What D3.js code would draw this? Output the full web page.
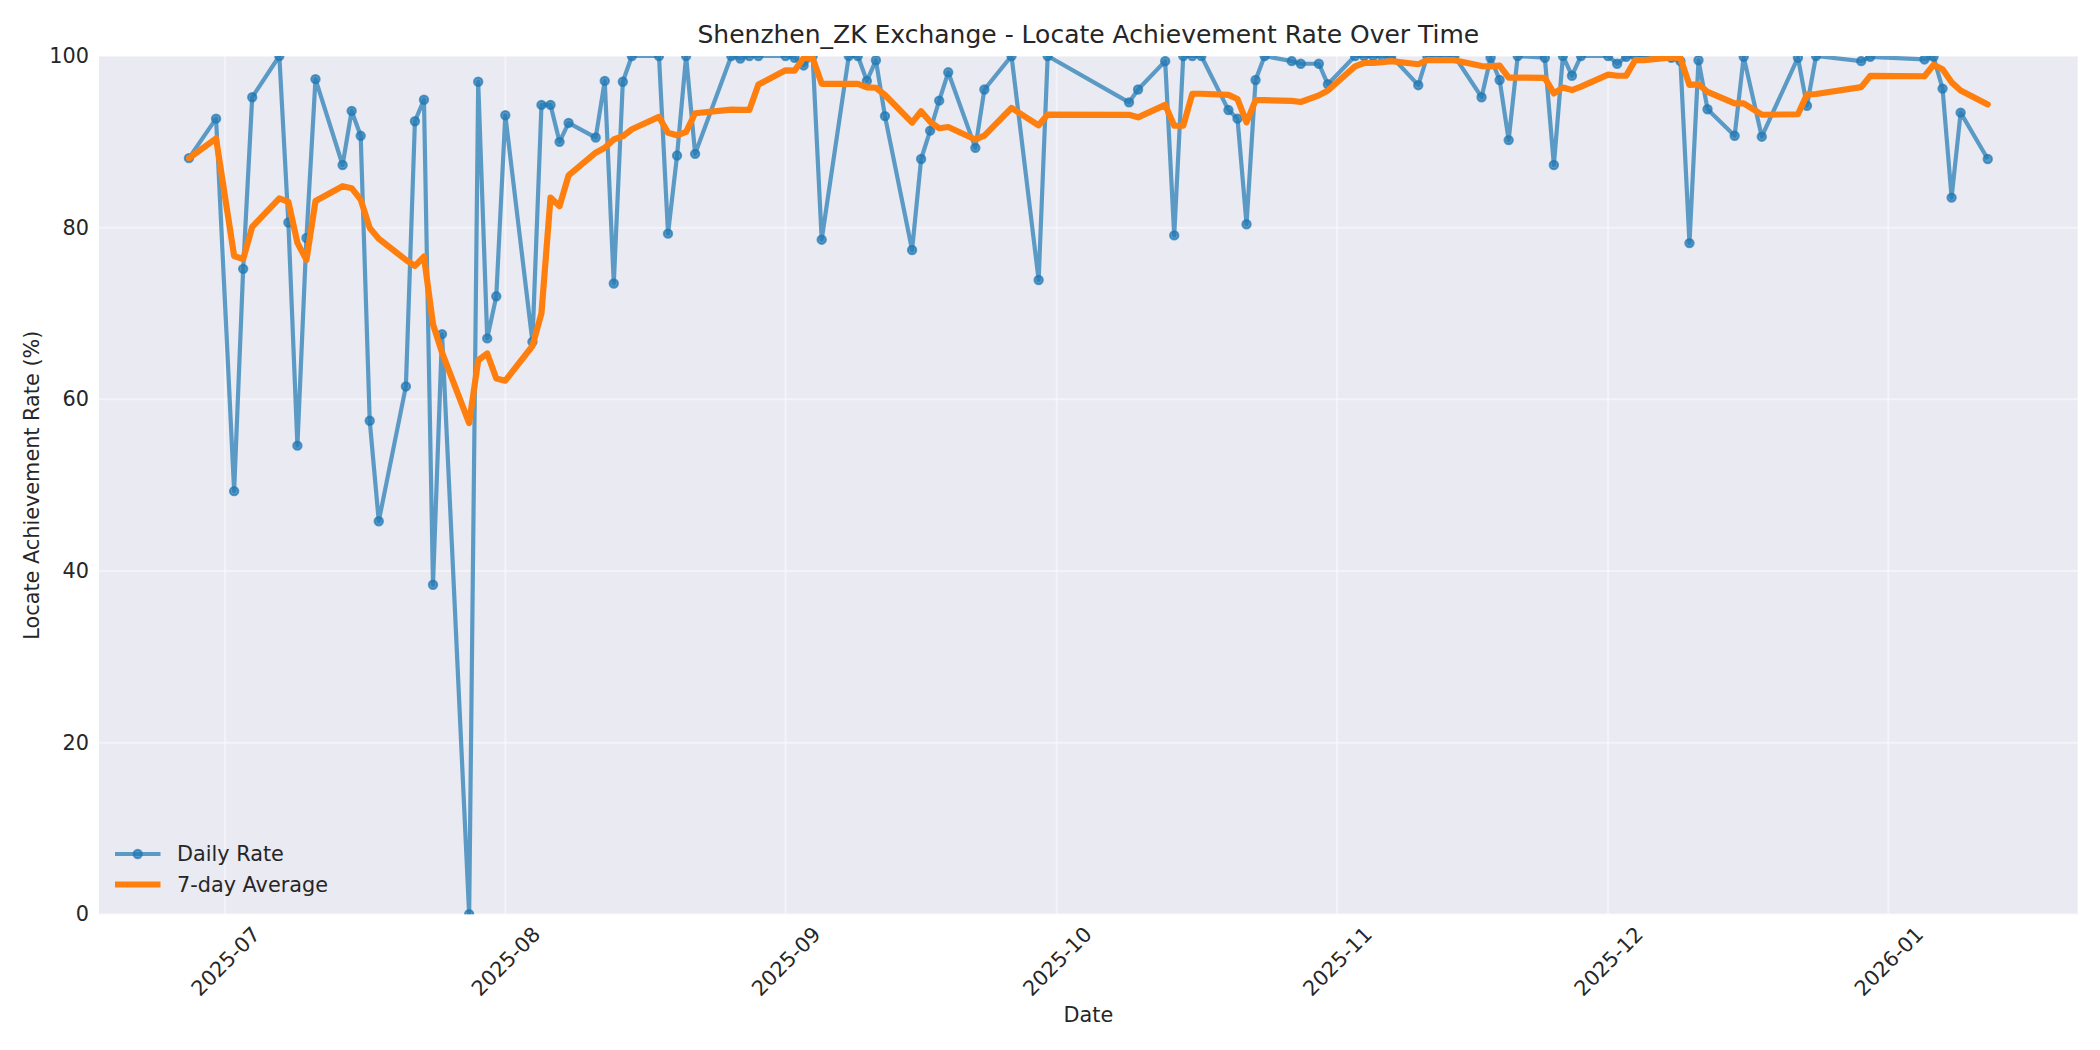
<!DOCTYPE html>
<html lang="en">
<head>
  <meta charset="UTF-8">
  <title>Shenzhen_ZK Exchange - Locate Achievement Rate Over Time</title>
  <script src="https://d3js.org/d3.v7.min.js"></script>
  <style>
    body { margin: 0; background: #fff; }
    text { font-family: "DejaVu Sans", sans-serif; fill: #262626; }
  </style>
</head>
<body>
  <script>
    // trading days and daily locate achievement rate (%)
    const dates = [
      "2025-06-27","2025-06-30","2025-07-02","2025-07-03","2025-07-04","2025-07-07","2025-07-08","2025-07-09",
      "2025-07-10","2025-07-11","2025-07-14","2025-07-15","2025-07-16","2025-07-17","2025-07-18","2025-07-21",
      "2025-07-22","2025-07-23","2025-07-24","2025-07-25","2025-07-28","2025-07-29","2025-07-30","2025-07-31",
      "2025-08-01","2025-08-04","2025-08-05","2025-08-06","2025-08-07","2025-08-08","2025-08-11","2025-08-12",
      "2025-08-13","2025-08-14","2025-08-15","2025-08-18","2025-08-19","2025-08-20","2025-08-21","2025-08-22",
      "2025-08-26","2025-08-27","2025-08-28","2025-08-29","2025-09-01","2025-09-02","2025-09-03","2025-09-04",
      "2025-09-05","2025-09-08","2025-09-09","2025-09-10","2025-09-11","2025-09-12","2025-09-15","2025-09-16",
      "2025-09-17","2025-09-18","2025-09-19","2025-09-22","2025-09-23","2025-09-26","2025-09-29","2025-09-30",
      "2025-10-09","2025-10-10","2025-10-13","2025-10-14","2025-10-15","2025-10-16","2025-10-17","2025-10-20",
      "2025-10-21","2025-10-22","2025-10-23","2025-10-24","2025-10-27","2025-10-28","2025-10-30","2025-10-31",
      "2025-11-03","2025-11-04","2025-11-05","2025-11-06","2025-11-07","2025-11-10","2025-11-11","2025-11-12",
      "2025-11-13","2025-11-14","2025-11-17","2025-11-18","2025-11-19","2025-11-20","2025-11-21","2025-11-24",
      "2025-11-25","2025-11-26","2025-11-27","2025-11-28","2025-12-01","2025-12-02","2025-12-03","2025-12-04",
      "2025-12-05","2025-12-08","2025-12-09","2025-12-10","2025-12-11","2025-12-12","2025-12-15","2025-12-16",
      "2025-12-18","2025-12-22","2025-12-23","2025-12-24","2025-12-29","2025-12-30","2026-01-05","2026-01-06",
      "2026-01-07","2026-01-08","2026-01-09","2026-01-12"
    ];
    const rates = [
      88.1, 92.7, 49.3, 75.2, 95.2, 100, 80.6, 54.6,
      78.8, 97.3, 87.3, 93.6, 90.7, 57.5, 45.8, 61.5,
      92.4, 94.9, 38.4, 67.6, 0, 97.0, 67.1, 72.0,
      93.1, 66.7, 94.3, 94.3, 90.0, 92.2, 90.5, 97.1,
      73.5, 97.0, 100, 100, 79.3, 88.4, 100, 88.6,
      100, 99.7, 100, 100, 100, 99.8, 98.9, 100,
      78.6, 100, 100, 97.1, 99.5, 93.0, 77.4, 88.0,
      91.3, 94.8, 98.1, 89.3, 96.1, 100, 73.9, 100,
      94.6, 96.1, 99.4, 79.1, 100, 100, 100, 93.7,
      92.7, 80.4, 97.2, 100, 99.4, 99.1, 99.1, 96.7,
      100, 100, 100, 100, 100, 96.6, 100, 100,
      100, 100, 95.2, 99.8, 97.2, 90.2, 100, 99.8,
      87.3, 100, 97.7, 100, 100, 99.1, 99.9, 100,
      100, 99.8, 99.4, 78.2, 99.5, 93.8, 90.7, 99.9,
      90.6, 99.8, 94.2, 100, 99.4, 99.9, 99.6, 99.9,
      96.2, 83.5, 93.4, 88.0
    ];
    const windowSize = 7;
    const yTicks = [0, 20, 40, 60, 80, 100];
    const seriesNames = ["Daily Rate", "7-day Average"];
    const titleText = "Shenzhen_ZK Exchange - Locate Achievement Rate Over Time";

    const width = 2100, height = 1050;
    const margin = { top: 56, right: 22.3, bottom: 135.7, left: 99 };
    const blue = "#1f77b4", orange = "#ff7f0e";

    const parse = d3.utcParse("%Y-%m-%d");
    const daily = dates.map((d, i) => ({ date: parse(d), value: rates[i] }));
    // rolling mean over the last 7 observations (min 1), like the source chart
    const avg = daily.map((d, i) => ({
      date: d.date,
      value: d3.mean(daily.slice(Math.max(0, i - windowSize + 1), i + 1), e => e.value)
    }));

    const svg = d3.select("body").append("svg")
      .attr("width", width)
      .attr("height", height);

    const [t0, t1] = d3.extent(daily, d => d.date);
    const pad = (t1 - t0) * 0.05;
    const x = d3.scaleUtc()
      .domain([new Date(+t0 - pad), new Date(+t1 + pad)])
      .range([margin.left, width - margin.right]);
    const y = d3.scaleLinear()
      .domain([0, 100])
      .range([height - margin.bottom, margin.top]);

    const plotW = width - margin.left - margin.right;
    const plotH = height - margin.top - margin.bottom;

    svg.append("defs").append("clipPath").attr("id", "plot-clip")
      .append("rect")
      .attr("x", margin.left).attr("y", margin.top)
      .attr("width", plotW).attr("height", plotH);

    svg.append("rect")
      .attr("x", margin.left).attr("y", margin.top)
      .attr("width", plotW).attr("height", plotH)
      .attr("fill", "#eaeaf2");

    // grid
    const monthTicks = x.ticks(d3.utcMonth.every(1));
    const grid = svg.append("g").attr("stroke", "#fff").attr("stroke-opacity", 0.45).attr("stroke-width", 2);
    grid.selectAll(".gx").data(monthTicks).join("line")
      .attr("x1", d => x(d)).attr("x2", d => x(d))
      .attr("y1", margin.top).attr("y2", height - margin.bottom);
    grid.selectAll(".gy").data(yTicks).join("line")
      .attr("x1", margin.left).attr("x2", width - margin.right)
      .attr("y1", d => y(d)).attr("y2", d => y(d));

    // axes (seaborn style: no spines, no tick marks)
    const xAxis = svg.append("g")
      .attr("transform", `translate(0,${height - margin.bottom})`)
      .call(d3.axisBottom(x).tickValues(monthTicks).tickFormat(d3.utcFormat("%Y-%m")).tickSize(0));
    xAxis.select(".domain").remove();
    xAxis.selectAll("text")
      .attr("font-size", 20.8)
      .attr("font-family", "DejaVu Sans")
      .attr("fill", "#262626")
      .attr("text-anchor", "middle")
      .attr("y", 0).attr("dy", "0.35em")
      .attr("transform", "translate(0,47) rotate(-45)");

    const yAxis = svg.append("g")
      .attr("transform", `translate(${margin.left},0)`)
      .call(d3.axisLeft(y).tickValues(yTicks).tickSize(0).tickPadding(10));
    yAxis.select(".domain").remove();
    yAxis.selectAll("text")
      .attr("font-size", 20.8)
      .attr("font-family", "DejaVu Sans")
      .attr("fill", "#262626");

    const plot = svg.append("g").attr("clip-path", "url(#plot-clip)");

    const line = d3.line().x(d => x(d.date)).y(d => y(d.value));

    plot.append("path")
      .datum(daily)
      .attr("d", line)
      .attr("fill", "none")
      .attr("stroke", blue)
      .attr("stroke-opacity", 0.7)
      .attr("stroke-width", 4.2)
      .attr("stroke-linejoin", "round");

    plot.selectAll(".dot").data(daily).join("circle")
      .attr("class", "dot")
      .attr("cx", d => x(d.date)).attr("cy", d => y(d.value))
      .attr("r", 4.2)
      .attr("fill", blue).attr("fill-opacity", 0.7)
      .attr("stroke", blue).attr("stroke-opacity", 0.7).attr("stroke-width", 2);

    plot.append("path")
      .datum(avg)
      .attr("d", line)
      .attr("fill", "none")
      .attr("stroke", orange)
      .attr("stroke-width", 6.2)
      .attr("stroke-linejoin", "round")
      .attr("stroke-linecap", "round");

    // labels
    svg.append("text")
      .attr("x", margin.left + plotW / 2).attr("y", 42.5)
      .attr("text-anchor", "middle")
      .attr("font-size", 25)
      .text(titleText);

    svg.append("text")
      .attr("x", margin.left + plotW / 2).attr("y", 1021.5)
      .attr("text-anchor", "middle")
      .attr("font-size", 20.8)
      .text("Date");

    svg.append("text")
      .attr("transform", `translate(32,${margin.top + plotH / 2}) rotate(-90)`)
      .attr("text-anchor", "middle")
      .attr("dy", "0.35em")
      .attr("font-size", 20.8)
      .text("Locate Achievement Rate (%)");

    // legend
    const legend = svg.append("g").attr("transform", `translate(${margin.left + 16},854)`);
    const items = legend.selectAll("g").data(seriesNames).join("g")
      .attr("transform", (d, i) => `translate(0,${i * 30.5})`);
    items.append("line")
      .attr("x1", 0).attr("x2", 45.5)
      .attr("stroke", (d, i) => i ? orange : blue)
      .attr("stroke-opacity", (d, i) => i ? 1 : 0.7)
      .attr("stroke-width", (d, i) => i ? 6.2 : 4.2);
    items.filter((d, i) => i === 0).append("circle")
      .attr("cx", 22.75).attr("r", 4.2)
      .attr("fill", blue).attr("fill-opacity", 0.7)
      .attr("stroke", blue).attr("stroke-opacity", 0.7).attr("stroke-width", 2);
    items.append("text")
      .attr("x", 62).attr("dy", "0.35em")
      .attr("font-size", 20.8)
      .text(d => d);
  </script>
</body>
</html>
